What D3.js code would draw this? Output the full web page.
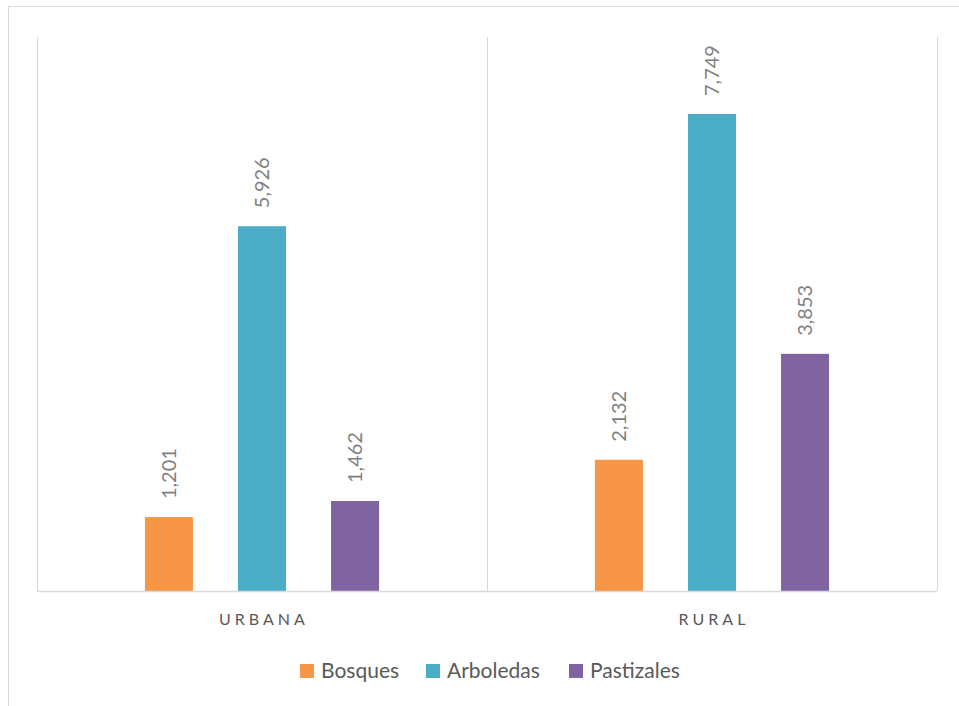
<!DOCTYPE html>
<html><head><meta charset="utf-8">
<script src="https://cdn.jsdelivr.net/npm/d3@7"></script>
<style>body{margin:0;background:#fff}svg{display:block}</style>
</head><body>
<svg id="c" width="959" height="706"></svg>
<script>
const categories = ["URBANA", "RURAL"];
const seriesNames = ["Bosques", "Arboledas", "Pastizales"];
const bosques = [1201, 2132];
const arboledas = [5926, 7749];
const pastizales = [1462, 3853];
const seriesColors = ["#F79646", "#4BACC6", "#8064A2"];
const yMax = 9000;

(function () {
const svg = d3.select("#c");
const font = "Lato, 'Open Sans', sans-serif";
const values = [bosques, arboledas, pastizales];

// outer chart border
svg.append("rect").attr("x", 8.5).attr("y", 6.5).attr("width", 960).attr("height", 710)
  .attr("fill", "none").attr("stroke", "#d9d9d9").attr("stroke-width", 1);

const pLeft = 37, pRight = 937, pTop = 37, pBottom = 591;
const x0 = d3.scaleBand().domain(categories).range([pLeft, pRight]).paddingInner(0).paddingOuter(0);
const x1 = d3.scaleBand().domain(seriesNames).range([0, x0.bandwidth()]).paddingInner(0.484).paddingOuter(1.16);
const y = d3.scaleLinear().domain([0, yMax]).range([pBottom, pTop]);

// vertical category separators
const bounds = [pLeft, ...categories.map(c => x0(c) + x0.bandwidth())];
svg.selectAll("line.sep").data(bounds).enter().append("line")
  .attr("x1", d => Math.round(d) + 0.5).attr("x2", d => Math.round(d) + 0.5)
  .attr("y1", pTop).attr("y2", pBottom)
  .attr("stroke", "#d9d9d9").attr("stroke-width", 1);

// bars
const g = svg.selectAll("g.cat").data(categories).enter().append("g")
  .attr("transform", c => `translate(${x0(c)},0)`);
seriesNames.forEach((s, si) => {
  g.append("rect")
    .attr("x", () => x1(s))
    .attr("width", x1.bandwidth())
    .attr("y", (c, ci) => y(values[si][ci]))
    .attr("height", (c, ci) => pBottom - y(values[si][ci]))
    .attr("fill", seriesColors[si]);
  g.append("text")
    .attr("transform", (c, ci) => `translate(${x1(s) + x1.bandwidth() / 2},${y(values[si][ci]) - 18}) rotate(-90)`)
    .attr("text-anchor", "start").attr("dy", "0.36em")
    .attr("font-family", font).attr("font-size", 20).attr("fill", "#7f7f7f")
    .text((c, ci) => d3.format(",")(values[si][ci]));
});

// baseline
svg.append("line").attr("x1", pLeft).attr("x2", pRight).attr("y1", pBottom + 0.5).attr("y2", pBottom + 0.5)
  .attr("stroke", "#d9d9d9").attr("stroke-width", 1.3);

// category labels
svg.selectAll("text.cat").data(categories).enter().append("text")
  .attr("x", c => x0(c) + x0.bandwidth() / 2 + 2).attr("y", 625)
  .attr("text-anchor", "middle").attr("font-family", font).attr("font-size", 16)
  .attr("letter-spacing", "4px").attr("fill", "#595959")
  .text(c => c);

// legend
const legendX = [300, 426, 569];
const lg = svg.selectAll("g.leg").data(seriesNames).enter().append("g")
  .attr("transform", (d, i) => `translate(${legendX[i]},664)`);
lg.append("rect").attr("width", 14).attr("height", 14).attr("fill", (d, i) => seriesColors[i]);
lg.append("text").attr("x", 21).attr("y", 14).attr("font-family", font).attr("font-size", 21)
  .attr("fill", "#595959").text(d => d);
})();
</script>
</body></html>
